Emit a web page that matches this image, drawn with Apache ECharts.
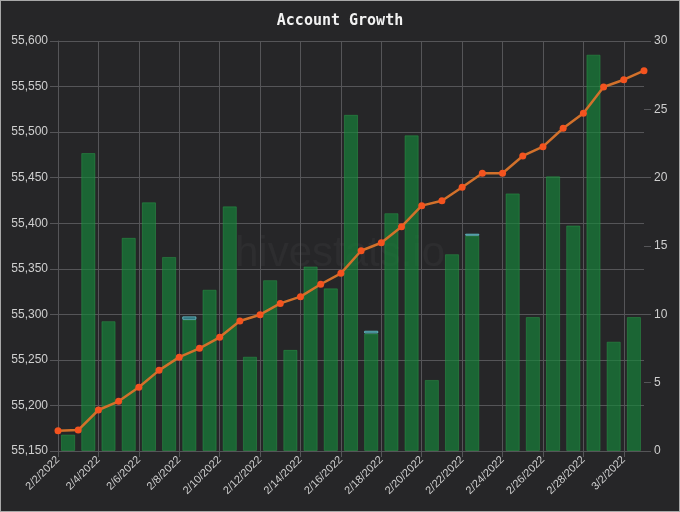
<!DOCTYPE html>
<html>
<head>
<meta charset="utf-8">
<script src="https://cdn.jsdelivr.net/npm/echarts@6/dist/echarts.min.js"></script>
<style>
    html, body { margin: 0; padding: 0; background: #fff; }
    #container { width: 678px; height: 510px; border: 1px solid #a8a8a8; background: #262628; }
</style>
</head>
<body>
<div id="container"></div>
<script>
var days = ['2/2/2022','2/3/2022','2/4/2022','2/5/2022','2/6/2022','2/7/2022','2/8/2022','2/9/2022',
    '2/10/2022','2/11/2022','2/12/2022','2/13/2022','2/14/2022','2/15/2022','2/16/2022','2/17/2022',
    '2/18/2022','2/19/2022','2/20/2022','2/21/2022','2/22/2022','2/23/2022','2/24/2022','2/25/2022',
    '2/26/2022','2/27/2022','2/28/2022','3/1/2022','3/2/2022','3/3/2022'];

// account balance, one point per day (left axis)
var balance = [55172.3, 55173, 55195, 55204.5, 55220, 55238.5, 55253, 55262.7,
    55274.8, 55292.7, 55299.6, 55312, 55319.4, 55333, 55345, 55369.8,
    55378.6, 55396.2, 55419.3, 55424.7, 55439.4, 55454.8, 55454.8, 55473.8,
    55484, 55504.2, 55520.6, 55549.5, 55557.5, 55567.4];

// daily growth between days (right axis)
var growthDays = days.slice(0, 29);
var growth = [1.2, 21.8, 9.5, 15.6, 18.2, 14.2, 9.6, 11.8,
    17.9, 6.9, 12.5, 7.4, 13.5, 11.9, 24.6, 8.6,
    17.4, 23.1, 5.2, 14.4, 15.75, 0, 18.85, 9.8,
    20.1, 16.5, 29, 8.0, 9.8];
var growthOther = [0, 0, 0, 0, 0, 0, 0.25, 0,
    0, 0, 0, 0, 0, 0, 0, 0.2,
    0, 0, 0, 0, 0.15, 0, 0, 0,
    0, 0, 0, 0, 0];

var leftTicks = { min: 55150, max: 55600, interval: 50 };
var rightTicks = { min: 0, max: 30, interval: 5 };

// empty days get no bar at all (no border line)
function noZero(arr) {
    return arr.map(function (v) { return v === 0 ? '-' : v; });
}

var dom = document.getElementById("container");
var myChart = echarts.init(dom);

var gridColor = '#555558';
var labelColor = '#cfcfcf';

var option = {
    backgroundColor: '#262628',
    animation: false,
    title: {
        text: 'Account Growth',
        left: 'center',
        top: 8,
        textStyle: {
            color: '#f2f2f2',
            fontFamily: 'DejaVu Sans Mono',
            fontWeight: 'bold',
            fontSize: 15
        }
    },
    graphic: [{
        type: 'text',
        left: 'center',
        top: 232,
        z: 0,
        style: {
            text: 'hivestats.io',
            fontFamily: 'Liberation Sans',
            fontSize: 42,
            fill: 'rgba(255,255,255,0.035)'
        }
    }],
    grid: { left: 57, right: 35, top: 40, bottom: 60 },
    xAxis: [
        {
            type: 'category',
            data: days,
            boundaryGap: false,
            axisLine: { lineStyle: { color: gridColor } },
            axisTick: { show: true, interval: 1, length: 6, lineStyle: { color: gridColor } },
            splitLine: { show: true, interval: 1, lineStyle: { color: gridColor } },
            axisLabel: {
                interval: 1,
                rotate: 45,
                margin: 7,
                color: labelColor,
                fontFamily: 'Liberation Sans',
                fontSize: 11
            }
        },
        {
            type: 'category',
            data: growthDays,
            boundaryGap: true,
            show: false
        }
    ],
    yAxis: [
        {
            type: 'value',
            position: 'left',
            min: leftTicks.min,
            max: leftTicks.max,
            interval: leftTicks.interval,
            axisLine: { show: true, lineStyle: { color: gridColor } },
            axisTick: { show: true, length: 8, lineStyle: { color: gridColor } },
            splitLine: { show: true, lineStyle: { color: gridColor } },
            axisLabel: {
                margin: 10,
                color: labelColor,
                fontFamily: 'Liberation Sans',
                fontSize: 12,
                formatter: function (v) { return v.toLocaleString('en-US'); }
            }
        },
        {
            type: 'value',
            position: 'right',
            min: rightTicks.min,
            max: rightTicks.max,
            interval: rightTicks.interval,
            axisLine: { show: false },
            axisTick: { show: true, length: 7, lineStyle: { color: gridColor } },
            splitLine: { show: false },
            axisLabel: {
                margin: 10,
                color: labelColor,
                fontFamily: 'Liberation Sans',
                fontSize: 12
            }
        }
    ],
    series: [
        {
            name: 'Growth',
            type: 'bar',
            xAxisIndex: 1,
            yAxisIndex: 1,
            stack: 'g',
            barWidth: '70%',
            data: noZero(growth),
            itemStyle: {
                color: 'rgba(22,135,58,0.65)',
                borderColor: 'rgba(45,160,75,0.45)',
                borderWidth: 1
            }
        },
        {
            name: 'Other',
            type: 'bar',
            xAxisIndex: 1,
            yAxisIndex: 1,
            stack: 'g',
            barWidth: '70%',
            data: noZero(growthOther),
            itemStyle: {
                color: 'rgba(40,150,160,0.6)',
                borderColor: 'rgba(110,200,210,0.8)',
                borderWidth: 1
            }
        },
        {
            name: 'Balance',
            type: 'line',
            xAxisIndex: 0,
            yAxisIndex: 0,
            data: balance,
            symbol: 'circle',
            symbolSize: 7,
            z: 5,
            lineStyle: { color: '#d2712b', width: 2.5 },
            itemStyle: { color: '#f4531f' }
        }
    ]
};

if (option && typeof option === "object") {
    myChart.setOption(option, true);
}
</script>
</body>
</html>
